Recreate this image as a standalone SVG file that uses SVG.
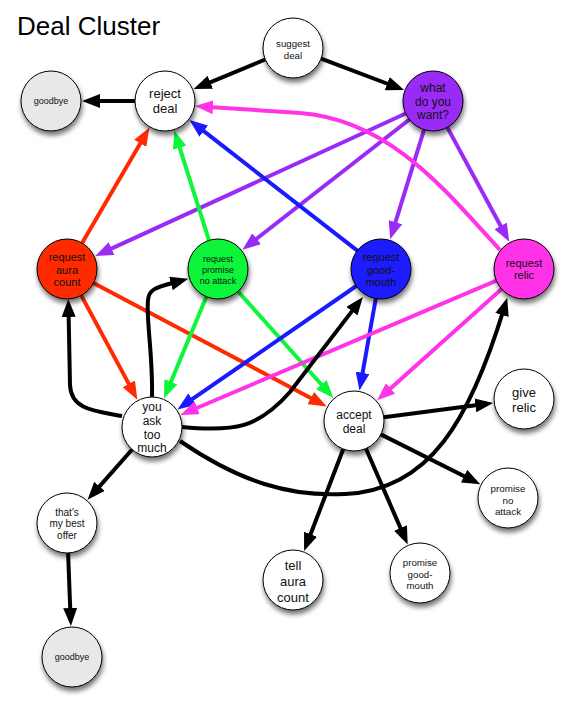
<svg xmlns="http://www.w3.org/2000/svg" width="574" height="711" viewBox="0 0 574 711">
<defs>
<filter id="sh" x="-30%" y="-30%" width="160%" height="170%">
<feGaussianBlur in="SourceAlpha" stdDeviation="2.5"/>
<feOffset dx="1" dy="4" result="o"/>
<feComponentTransfer><feFuncA type="linear" slope="0.55"/></feComponentTransfer>
<feMerge><feMergeNode/><feMergeNode in="SourceGraphic"/></feMerge>
</filter>
<marker id="ak" markerUnits="userSpaceOnUse" markerWidth="18" markerHeight="14" viewBox="0 0 18 14" refX="8" refY="7" orient="auto"><path d="M0,0 L18,7 L0,14 z" fill="#000"/></marker>
<marker id="ar" markerUnits="userSpaceOnUse" markerWidth="18" markerHeight="14" viewBox="0 0 18 14" refX="8" refY="7" orient="auto"><path d="M0,0 L18,7 L0,14 z" fill="#ff2a00"/></marker>
<marker id="ag" markerUnits="userSpaceOnUse" markerWidth="18" markerHeight="14" viewBox="0 0 18 14" refX="8" refY="7" orient="auto"><path d="M0,0 L18,7 L0,14 z" fill="#0ff53a"/></marker>
<marker id="ab" markerUnits="userSpaceOnUse" markerWidth="18" markerHeight="14" viewBox="0 0 18 14" refX="8" refY="7" orient="auto"><path d="M0,0 L18,7 L0,14 z" fill="#1a1aff"/></marker>
<marker id="ap" markerUnits="userSpaceOnUse" markerWidth="18" markerHeight="14" viewBox="0 0 18 14" refX="8" refY="7" orient="auto"><path d="M0,0 L18,7 L0,14 z" fill="#9a2af5"/></marker>
<marker id="am" markerUnits="userSpaceOnUse" markerWidth="18" markerHeight="14" viewBox="0 0 18 14" refX="8" refY="7" orient="auto"><path d="M0,0 L18,7 L0,14 z" fill="#ff33e8"/></marker>
</defs>
<style>
.k{stroke:#000;marker-end:url(#ak)}
.r{stroke:#ff2a00;marker-end:url(#ar)}
.g{stroke:#0ff53a;marker-end:url(#ag)}
.b{stroke:#1a1aff;marker-end:url(#ab)}
.p{stroke:#9a2af5;marker-end:url(#ap)}
.m{stroke:#ff33e8;marker-end:url(#am)}
.n circle{stroke:#000;stroke-width:1;filter:url(#sh)}
.n text{font-family:"Liberation Sans",Arial,sans-serif;text-anchor:middle;fill:#111}
.w{fill:#fff}
.gy{fill:#e8e8e8}
</style>
<rect width="574" height="711" fill="#fff"/>
<text x="17" y="35" font-family="Liberation Sans, Arial, sans-serif" font-size="26" fill="#000">Deal Cluster</text>
<g id="connectors" fill="none" stroke-width="4">
<path class="p" d="M405.7,113.5 L104.3,251.9"/>
<path class="p" d="M409.4,119.5 L250.3,243.7"/>
<path class="p" d="M424.1,129.7 L393.1,229.8"/>
<path class="p" d="M447.3,127.4 L504.5,233"/>
<path class="m" d="M500,250 C445,190 390,120 300,113 L205,106.7"/>
<path class="r" d="M82.1,243.1 L144.3,136.4"/>
<path class="g" d="M209,240.4 L177.3,140.1"/>
<path class="b" d="M357.3,250.6 L197.4,126.2"/>
<path class="r" d="M81.2,295.4 L132.6,390.9"/>
<path class="r" d="M93.5,283 L317.8,401.8"/>
<path class="g" d="M206.4,296.7 L167.8,389.2"/>
<path class="g" d="M238,291.4 L326.7,390.5"/>
<path class="b" d="M356.3,286 L185.7,403.7"/>
<path class="b" d="M375.8,298.5 L361.2,380.7"/>
<path class="m" d="M496.4,280.7 L189.7,411"/>
<path class="m" d="M501.6,289 L384.6,393.7"/>
<path class="k" d="M265.3,59.5 L202.9,85.3"/>
<path class="k" d="M321.1,58.6 L394.7,86.5"/>
<path class="k" d="M135,101 L92,101"/>
<path class="k" d="M122,416 C95,411 71,410 70,385 L68.5,309"/>
<path class="k" d="M152,397 C153,355 146,320 148,300 C149,288 158,287 178.6,281.4"/>
<path class="k" d="M182,427 C235,432 258,428 290,392 L356.8,304.9"/>
<path class="k" d="M180,441 C240,482 290,497 345,494 C430,490 470,420 504.3,307.3"/>
<path class="k" d="M132.1,449.5 L94.2,492.3"/>
<path class="k" d="M68.1,553 L70.5,616"/>
<path class="k" d="M383.8,417.2 L483.3,404.3"/>
<path class="k" d="M380.8,434.4 L471.3,479.7"/>
<path class="k" d="M343.3,449 L307.7,541.7"/>
<path class="k" d="M365.9,448.5 L403.7,535.4"/>
</g>
<g id="suggest-deal" class="n"><circle cx="293" cy="48" r="30" class="w"/><text font-size="9.7"><tspan x="293" y="46.5">suggest</tspan><tspan x="293" y="58.5">deal</tspan></text></g>
<g id="reject-deal" class="n"><circle cx="165" cy="101" r="30" class="w"/><text font-size="13"><tspan x="165" y="98">reject</tspan><tspan x="165" y="113">deal</tspan></text></g>
<g id="goodbye-1" class="n"><circle cx="51" cy="101" r="30" class="gy"/><text font-size="9" x="51" y="104.3">goodbye</text></g>
<g id="what-do-you-want" class="n"><circle cx="433" cy="101" r="30" fill="#9a2af5"/><text font-size="12"><tspan x="433" y="91.5">what</tspan><tspan x="433" y="105.5">do you</tspan><tspan x="433" y="119">want?</tspan></text></g>
<g id="request-aura-count" class="n"><circle cx="67" cy="269" r="30" fill="#ff2a00"/><text font-size="11"><tspan x="67" y="261">request</tspan><tspan x="67" y="273.5">aura</tspan><tspan x="67" y="286">count</tspan></text></g>
<g id="request-promise-no-attack" class="n"><circle cx="218" cy="269" r="30" fill="#0ff53a"/><text font-size="9"><tspan x="218" y="262">request</tspan><tspan x="218" y="273">promise</tspan><tspan x="218" y="284">no attack</tspan></text></g>
<g id="request-good-mouth" class="n"><circle cx="381" cy="269" r="30" fill="#1a1aff"/><text font-size="11"><tspan x="381" y="261">request</tspan><tspan x="381" y="273.5">good-</tspan><tspan x="381" y="286">mouth</tspan></text></g>
<g id="request-relic" class="n"><circle cx="524" cy="269" r="30" fill="#ff33e8"/><text font-size="11"><tspan x="524" y="267">request</tspan><tspan x="524" y="279">relic</tspan></text></g>
<g id="you-ask-too-much" class="n"><circle cx="152" cy="427" r="30" class="w"/><text font-size="12"><tspan x="152" y="410.5">you</tspan><tspan x="152" y="424.5">ask</tspan><tspan x="152" y="438.5">too</tspan><tspan x="152" y="451.5">much</tspan></text></g>
<g id="accept-deal" class="n"><circle cx="354" cy="421" r="30" class="w"/><text font-size="12"><tspan x="354" y="418.5">accept</tspan><tspan x="354" y="432.5">deal</tspan></text></g>
<g id="give-relic" class="n"><circle cx="524" cy="399" r="30" class="w"/><text font-size="13"><tspan x="524" y="396.5">give</tspan><tspan x="524" y="411.5">relic</tspan></text></g>
<g id="promise-no-attack" class="n"><circle cx="508" cy="498" r="30" class="w"/><text font-size="9.8"><tspan x="508" y="491.5">promise</tspan><tspan x="508" y="503.5">no</tspan><tspan x="508" y="514.5">attack</tspan></text></g>
<g id="promise-good-mouth" class="n"><circle cx="420" cy="573" r="30" class="w"/><text font-size="9.7"><tspan x="420" y="565.5">promise</tspan><tspan x="420" y="577.5">good-</tspan><tspan x="420" y="588.5">mouth</tspan></text></g>
<g id="tell-aura-count" class="n"><circle cx="293" cy="580" r="30" class="w"/><text font-size="13"><tspan x="293" y="569.5">tell</tspan><tspan x="293" y="585.5">aura</tspan><tspan x="293" y="601.5">count</tspan></text></g>
<g id="thats-my-best-offer" class="n"><circle cx="67" cy="523" r="30" class="w"/><text font-size="10"><tspan x="67" y="515.5">that's</tspan><tspan x="67" y="526.5">my best</tspan><tspan x="67" y="538.5">offer</tspan></text></g>
<g id="goodbye-2" class="n"><circle cx="72" cy="657" r="30" class="gy"/><text font-size="9" x="72" y="660.3">goodbye</text></g>
</svg>
